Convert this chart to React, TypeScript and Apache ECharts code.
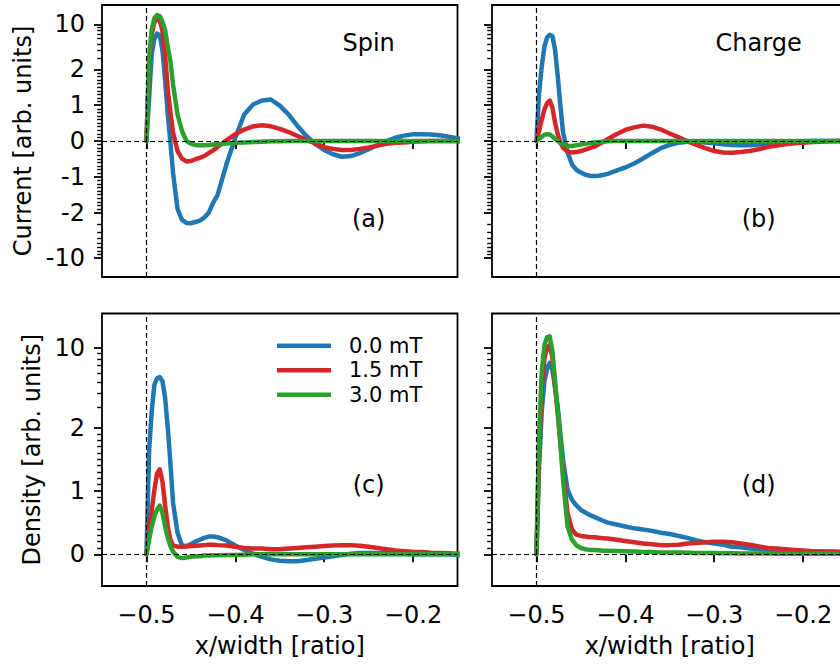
import React, { useEffect, useRef } from 'react';
import * as echarts from 'echarts';

// x positions (x/width ratio), shared by every series
const xs = [-0.5, -0.497, -0.494, -0.491, -0.488, -0.485, -0.482, -0.479, -0.476, -0.473, -0.47,
  -0.465, -0.46, -0.455, -0.45, -0.445, -0.44, -0.435, -0.43, -0.425, -0.42,
  -0.41, -0.4, -0.39, -0.38, -0.37, -0.36, -0.35, -0.34, -0.33, -0.32, -0.31, -0.3, -0.29, -0.28,
  -0.27, -0.26, -0.25, -0.24, -0.23, -0.22, -0.21, -0.2, -0.19, -0.18, -0.17, -0.16, -0.15, -0.14];

// (a) Spin current
const curSpin00 = [0, 1.2, 3.5, 6.0, 7.2, 6.8, 4.0, 1.7, 0.75, -0.05, -0.9,
  -1.9, -2.6, -2.9, -2.93, -2.8, -2.66, -2.39, -2.02, -1.73, -1.51,
  -0.65, 0.09, 0.74, 1.02, 1.13, 1.16, 0.99, 0.74, 0.42, 0.14, -0.09, -0.25, -0.37, -0.44,
  -0.42, -0.34, -0.23, -0.11, 0, 0.09, 0.15, 0.19, 0.19, 0.18, 0.16, 0.12, 0.08, 0.05];
const curSpin15 = [0, 2.5, 7, 11, 12, 11.5, 8, 3.4, 1.44, 0.79, 0.23,
  -0.28, -0.49, -0.57, -0.56, -0.51, -0.47, -0.42, -0.34, -0.26, -0.17,
  0.02, 0.19, 0.32, 0.41, 0.44, 0.41, 0.34, 0.25, 0.14, 0.03, -0.07, -0.17, -0.22, -0.25,
  -0.25, -0.22, -0.18, -0.13, -0.08, -0.05, -0.04, -0.02, -0.01, 0, 0, 0, 0, 0];
const curSpin30 = [0, 3, 8.5, 12.5, 14, 13.5, 11, 8.2, 4.5, 2.66, 1.57,
  0.74, 0.28, 0, -0.07, -0.11, -0.12, -0.12, -0.11, -0.1, -0.09,
  -0.07, -0.05, -0.04, -0.03, -0.02, -0.01, -0.01, 0, 0, 0, 0, 0, 0, 0,
  0, 0, 0, 0, 0, 0, 0, 0, 0, 0, 0, 0, 0, 0];

// (b) Charge current
const curCharge00 = [0, 1.34, 2.23, 4.5, 6.3, 6.9, 6.6, 4.0, 1.8, 0.97, 0.23,
  -0.32, -0.65, -0.81, -0.88, -0.94, -0.97, -0.98, -0.97, -0.95, -0.92,
  -0.83, -0.74, -0.63, -0.49, -0.34, -0.2, -0.11, -0.05, -0.02, -0.02, -0.04, -0.06, -0.09, -0.11,
  -0.12, -0.12, -0.1, -0.07, -0.05, -0.04, -0.02, -0.01, 0, 0, 0, 0, 0, 0];
const curCharge15 = [0, 0.28, 0.6, 0.88, 1.06, 1.13, 0.93, 0.51, 0.19, -0.05, -0.19,
  -0.29, -0.32, -0.31, -0.28, -0.24, -0.2, -0.16, -0.09, -0.03, 0.05,
  0.19, 0.31, 0.38, 0.43, 0.4, 0.32, 0.21, 0.1, -0.01, -0.11, -0.2, -0.28, -0.32, -0.33,
  -0.31, -0.28, -0.23, -0.17, -0.13, -0.09, -0.06, -0.05, -0.03, -0.02, -0.01, 0, 0, 0];
const curCharge30 = [0, 0.06, 0.12, 0.17, 0.19, 0.18, 0.13, 0.06, 0, -0.05, -0.09,
  -0.13, -0.14, -0.12, -0.1, -0.08, -0.06, -0.04, -0.03, -0.02, -0.01,
  0, 0, 0, 0, 0, 0, 0, 0, 0, 0, 0, 0, 0, 0,
  0, 0, 0, 0, 0, 0, 0, 0, 0, 0, 0, 0, 0, 0];

// (c) Spin density
const denSpin00 = [0, 1.64, 2.81, 4.79, 5.4, 5.55, 5.1, 3.66, 2.0, 1.43, 0.81,
  0.34, 0.14, 0.13, 0.16, 0.2, 0.23, 0.26, 0.28, 0.28, 0.27,
  0.22, 0.14, 0.07, 0.01, -0.04, -0.08, -0.1, -0.11, -0.11, -0.09, -0.07, -0.05, -0.03, -0.01,
  0.01, 0.02, 0.02, 0.02, 0.02, 0.01, 0.01, 0, 0, 0, 0, 0, -0.01, -0.01];
const denSpin15 = [0, 0.34, 0.7, 1.02, 1.28, 1.34, 1.15, 0.78, 0.44, 0.23, 0.14,
  0.12, 0.12, 0.125, 0.13, 0.135, 0.14, 0.145, 0.15, 0.15, 0.145,
  0.14, 0.12, 0.1, 0.09, 0.09, 0.08, 0.08, 0.09, 0.1, 0.11, 0.12, 0.13, 0.14, 0.145,
  0.145, 0.135, 0.12, 0.1, 0.08, 0.06, 0.05, 0.04, 0.035, 0.025, 0.02, 0.015, 0.01, 0.01];
const denSpin30 = [0, 0.23, 0.44, 0.6, 0.71, 0.77, 0.65, 0.44, 0.26, 0.13, 0.04,
  -0.04, -0.06, -0.05, -0.04, -0.03, -0.03, -0.02, -0.02, -0.015, -0.015,
  -0.01, -0.01, -0.005, 0, 0, 0, 0, 0, 0, 0, 0, 0, 0, 0,
  0, 0, 0, 0, 0, 0, 0, 0, 0, 0, 0, 0, 0, 0];

// (d) Charge density
const denCharge00 = [0, 1.38, 2.8, 5.1, 6.6, 7.4, 6.4, 4.46, 3.0, 1.9, 1.48,
  1.02, 0.86, 0.77, 0.7, 0.66, 0.62, 0.59, 0.56, 0.53, 0.5,
  0.47, 0.44, 0.41, 0.39, 0.37, 0.34, 0.32, 0.29, 0.26, 0.22, 0.19, 0.17, 0.15, 0.12,
  0.11, 0.09, 0.08, 0.07, 0.06, 0.06, 0.06, 0.05, 0.05, 0.045, 0.045, 0.04, 0.04, 0.035];
const denCharge15 = [0, 1.64, 4.5, 8.1, 9.97, 10.6, 8.1, 4.5, 2.63, 1.75, 1.28,
  0.65, 0.39, 0.31, 0.29, 0.28, 0.27, 0.27, 0.26, 0.255, 0.25,
  0.23, 0.21, 0.19, 0.17, 0.16, 0.145, 0.145, 0.15, 0.17, 0.18, 0.19, 0.2, 0.2, 0.19,
  0.17, 0.15, 0.125, 0.1, 0.09, 0.08, 0.07, 0.06, 0.05, 0.045, 0.04, 0.035, 0.03, 0.03];
const denCharge30 = [0, 1.9, 6.2, 10.6, 12.4, 12.6, 9.3, 5.1, 2.8, 1.75, 1.17,
  0.44, 0.23, 0.14, 0.1, 0.08, 0.07, 0.068, 0.063, 0.058, 0.057,
  0.053, 0.048, 0.043, 0.037, 0.035, 0.03, 0.03, 0.027, 0.025, 0.022, 0.02, 0.02, 0.017, 0.015,
  0.014, 0.013, 0.012, 0.011, 0.01, 0.01, 0.01, 0.009, 0.009, 0.008, 0.008, 0.008, 0.007, 0.007];

const seriesNames = ['0.0 mT', '1.5 mT', '3.0 mT'];
const seriesColors = ['#1f77b4', '#d62728', '#2ca02c'];
const panelTitles = ['Spin', 'Charge', '', ''];
const panelLetters = ['(a)', '(b)', '(c)', '(d)'];
const yNames = ['Current [arb. units]', 'Density [arb. units]'];

const xTicks = [-0.5, -0.4, -0.3, -0.2];
const xRange = [-0.55, -0.15];
const currentTicks = [-10, -2, -1, 0, 1, 2, 10];
const densityTicks = [0, 1, 2, 10];
const currentRange = [-20, 20];
const densityRange = [-0.5, 20];

// symmetric log scale (linthresh 2, base 10, linscale 1)
const LIN = 2;
const ADJ = 1 / (1 - 1 / 10);
const symlog = (v: number) => {
  const a = Math.abs(v);
  return a <= LIN ? v * ADJ : Math.sign(v) * LIN * (ADJ + Math.log10(a / LIN));
};

const minorPositive: number[] = [];
for (let i = 1; i < 20; i++) if (i !== 10) minorPositive.push(i / 10);
for (let i = 3; i < 10; i++) minorPositive.push(i);
const currentMinor = [...minorPositive, ...minorPositive.map((v) => -v)];
const densityMinor = [...minorPositive];

const FONT = 'DejaVu Sans';
const FS = 24;
const LEGEND_FS = 21;

export default function App() {
  const ref = useRef<HTMLDivElement>(null);
  useEffect(() => {
    if (!ref.current) return;
    const chart = echarts.init(ref.current, undefined, { renderer: 'svg' });

    const W = 355.5;
    const grids = [
      { left: 102, top: 5, width: W, height: 272 },
      { left: 492, top: 5, width: W, height: 272 },
      { left: 102, top: 313.5, width: W, height: 272.5 },
      { left: 492, top: 313.5, width: W, height: 272.5 },
    ];
    const panelData = [
      [curSpin00, curSpin15, curSpin30],
      [curCharge00, curCharge15, curCharge30],
      [denSpin00, denSpin15, denSpin30],
      [denCharge00, denCharge15, denCharge30],
    ];

    const xAxis: any[] = [];
    const yAxis: any[] = [];
    const series: any[] = [];
    const graphic: any[] = [];

    grids.forEach((g, i) => {
      const bottom = i >= 2;
      const leftCol = i % 2 === 0;
      const ticks = bottom ? densityTicks : currentTicks;
      const range = bottom ? densityRange : currentRange;
      xAxis.push({
        gridIndex: i, type: 'value', min: xRange[0], max: xRange[1],
        axisLine: { show: false }, splitLine: { show: false },
        axisTick: { show: true, customValues: xTicks, length: 8, lineStyle: { color: '#000', width: 1.8 } },
        axisLabel: {
          show: bottom, customValues: xTicks, margin: 17,
          fontFamily: FONT, fontSize: FS, color: '#000',
          formatter: (v: number) => (v < 0 ? '\u2212' : '') + Math.abs(v).toFixed(1),
        },
        name: bottom ? 'x/width [ratio]' : '', nameLocation: 'middle', nameGap: 48,
        nameTextStyle: { fontFamily: FONT, fontSize: FS, color: '#000' },
      });
      const tv = ticks.map(symlog);
      yAxis.push({
        gridIndex: i, type: 'value', position: 'left', min: symlog(range[0]), max: symlog(range[1]),
        axisLine: { show: false }, splitLine: { show: false },
        axisTick: { show: true, customValues: tv, length: 8, lineStyle: { color: '#000', width: 1.8 } },
        axisLabel: {
          show: leftCol, customValues: tv, margin: 17,
          fontFamily: FONT, fontSize: FS, color: '#000',
          formatter: (val: number) => {
            let best = ticks[0];
            ticks.forEach((t) => { if (Math.abs(symlog(t) - val) < Math.abs(symlog(best) - val)) best = t; });
            return String(best);
          },
        },
        name: leftCol ? yNames[bottom ? 1 : 0] : '', nameLocation: 'middle', nameGap: bottom ? 58 : 67,
        nameTextStyle: { fontFamily: FONT, fontSize: FS, color: '#000' },
      });
      panelData[i].forEach((arr, k) => {
        const s: any = {
          type: 'line', name: seriesNames[k], xAxisIndex: i, yAxisIndex: i,
          data: xs.map((x, j) => [x, symlog(arr[j])]),
          showSymbol: false, symbol: 'none', silent: true,
          lineStyle: { color: seriesColors[k], width: 4.5, cap: 'round', join: 'round' },
          itemStyle: { color: seriesColors[k] },
          z: 2 + k,
        };
        if (k === 2) {
          s.markLine = {
            silent: true, symbol: 'none', label: { show: false }, animation: false,
            lineStyle: { type: [5, 3], color: '#000', width: 1.2 },
            data: [{ xAxis: -0.5 }, { yAxis: 0 }],
          };
        }
        series.push(s);
      });
      const cx = g.left + 0.75 * g.width;
      if (panelTitles[i]) {
        graphic.push({
          type: 'text', x: cx, y: g.top + 38, silent: true,
          style: { text: panelTitles[i], fontFamily: FONT, fontSize: FS, fill: '#000', align: 'center', verticalAlign: 'middle' },
        });
      }
      graphic.push({
        type: 'text', x: cx, y: g.top + (bottom ? 171 : 214), silent: true,
        style: { text: panelLetters[i], fontFamily: FONT, fontSize: FS, fill: '#000', align: 'center', verticalAlign: 'middle' },
      });
    });

    // minor tick axes
    grids.forEach((g, i) => {
      const bottom = i >= 2;
      const range = bottom ? densityRange : currentRange;
      const minor = bottom ? densityMinor : currentMinor;
      yAxis.push({
        gridIndex: i, type: 'value', position: 'left', min: symlog(range[0]), max: symlog(range[1]),
        axisLine: { show: false }, splitLine: { show: false }, axisLabel: { show: false },
        axisTick: { show: true, customValues: minor.map(symlog), length: 4.8, lineStyle: { color: '#000', width: 1.4 } },
      });
    });

    chart.setOption({
      animation: false,
      backgroundColor: '#fff',
      grid: grids.map((g) => ({ ...g, show: true, borderColor: '#000', borderWidth: 1.8, backgroundColor: 'transparent' })),
      xAxis, yAxis, series, graphic,
      legend: {
        orient: 'vertical', left: 277, top: 333.5, padding: 0, data: seriesNames,
        icon: 'rect', itemWidth: 54, itemHeight: 4.5, itemGap: 0,
        textStyle: { fontFamily: FONT, fontSize: LEGEND_FS, color: '#000', lineHeight: 24.5, padding: [0, 0, 0, 13] },
        selectedMode: false,
      },
    });
    return () => chart.dispose();
  }, []);

  return (
    <div style={{ position: 'fixed', left: 0, top: 0, width: 840, height: 666, overflow: 'hidden', background: '#fff' }}>
      <div ref={ref} style={{ width: 860, height: 666 }} />
    </div>
  );
}
